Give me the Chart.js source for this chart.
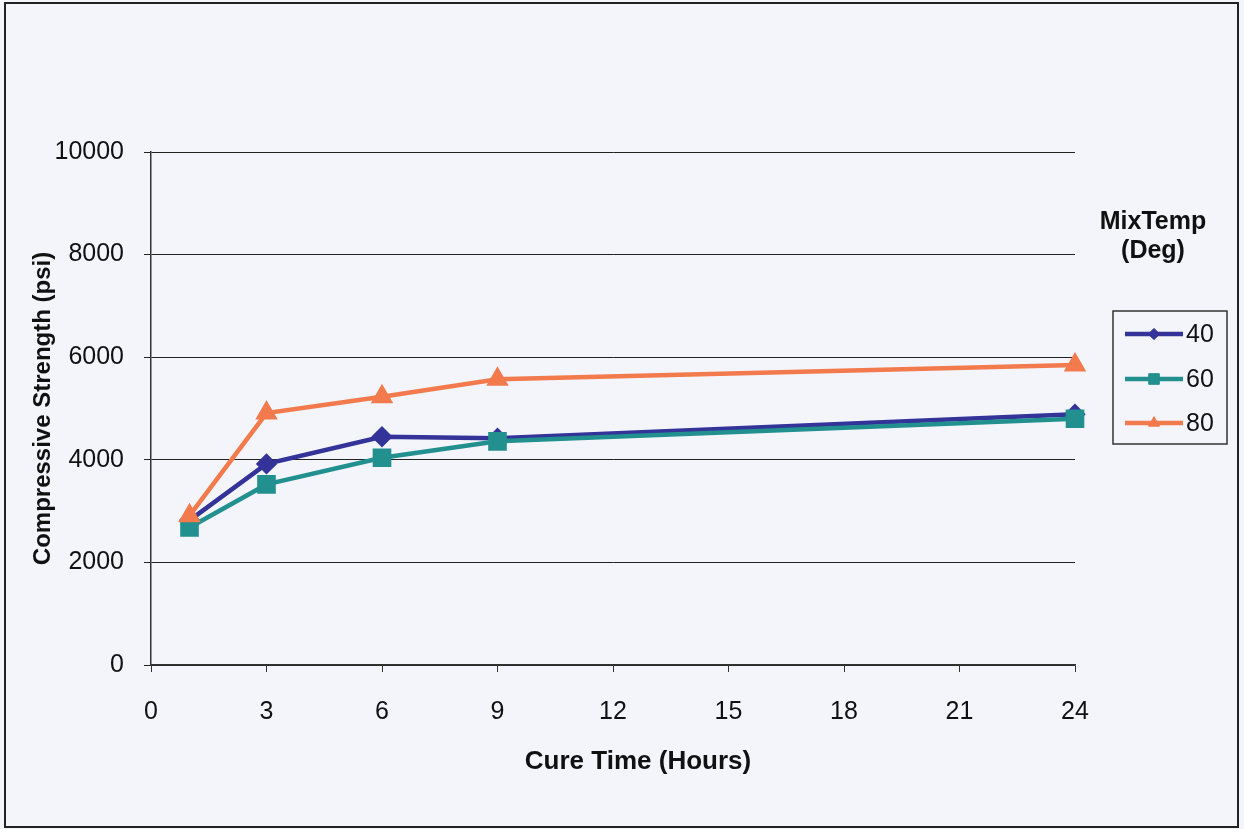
<!DOCTYPE html>
<html>
<head>
<meta charset="utf-8">
<script src="https://cdn.jsdelivr.net/npm/chart.js@4.4.1/dist/chart.umd.min.js"></script>
<style>
  html, body { margin: 0; padding: 0; background: #f4f5fb; }
  #wrap { width: 1244px; height: 829px; position: relative; }
</style>
</head>
<body>
<div id="wrap"><canvas id="myChart" width="1244" height="829"></canvas></div>
<script>
// cure time (hours) and strength (psi) per mix temperature
const hours = [1, 3, 6, 9, 24];
const temp40 = [2820, 3920, 4450, 4420, 4890];
const temp60 = [2680, 3520, 4040, 4360, 4800];
const temp80 = [2910, 4910, 5230, 5570, 5850];
const seriesLabels = ['40', '60', '80'];
const xTicks = [0, 3, 6, 9, 12, 15, 18, 21, 24];
const yTicks = [0, 2000, 4000, 6000, 8000, 10000];
const xTitle = 'Cure Time (Hours)';

const FONT = "'Liberation Sans', Arial, sans-serif";

function pts(ys) {
    return hours.map((h, i) => ({ x: h, y: ys[i] }));
}

// page frame + background, x title sits a bit right of the plot centre like the original
const framePlugin = {
    id: 'frame',
    beforeDraw(chart) {
        const ctx = chart.ctx;
        ctx.save();
        ctx.fillStyle = '#f4f5fb';
        ctx.fillRect(0, 0, chart.width, chart.height);
        ctx.strokeStyle = '#222';
        ctx.lineWidth = 2;
        ctx.strokeRect(5, 3, 1233, 824);
        ctx.restore();
    },
    afterDraw(chart) {
        const ctx = chart.ctx;
        ctx.save();
        ctx.fillStyle = '#111';
        ctx.font = 'bold 26px ' + FONT;
        ctx.textAlign = 'center';
        ctx.textBaseline = 'middle';
        ctx.fillText(xTitle, 638, 762);
        ctx.restore();
    }
};

// excel style legend on the right with a title above it
const sideLegend = {
    id: 'sideLegend',
    afterDraw(chart) {
        const ctx = chart.ctx;
        ctx.save();
        ctx.fillStyle = '#111';
        ctx.font = 'bold 25px ' + FONT;
        ctx.textAlign = 'center';
        ctx.textBaseline = 'middle';
        ctx.fillText('MixTemp', 1153, 222);
        ctx.fillText('(Deg)', 1153, 251);

        ctx.strokeStyle = '#333';
        ctx.lineWidth = 1.5;
        ctx.strokeRect(1113, 311, 114, 133);

        const rows = [334, 379, 423];
        chart.data.datasets.forEach((ds, i) => {
            const y = rows[i];
            ctx.strokeStyle = ds.borderColor;
            ctx.lineWidth = ds.borderWidth;
            ctx.beginPath();
            ctx.moveTo(1125, y);
            ctx.lineTo(1183, y);
            ctx.stroke();
            ctx.fillStyle = ds.borderColor;
            ctx.strokeStyle = ds.borderColor;
            ctx.lineWidth = 1;
            Chart.helpers.drawPoint(ctx, {
                pointStyle: ds.pointStyle,
                radius: ds.pointRadius * 0.75,
                rotation: 0,
                borderWidth: 1
            }, 1154, y);
            ctx.fillStyle = '#111';
            ctx.font = '25px ' + FONT;
            ctx.textAlign = 'left';
            ctx.fillText(ds.label, 1186, y + 1);
        });
        ctx.restore();
    }
};

new Chart(document.getElementById('myChart'), {
    type: 'line',
    data: {
        datasets: [
            {
                label: seriesLabels[0],
                data: pts(temp40),
                borderColor: '#333399',
                backgroundColor: '#333399',
                borderWidth: 4.5,
                pointStyle: 'rectRot',
                pointRadius: 7.5,
                order: 3
            },
            {
                label: seriesLabels[1],
                data: pts(temp60),
                borderColor: '#22908f',
                backgroundColor: '#22908f',
                borderWidth: 4.5,
                pointStyle: 'rect',
                pointRadius: 10,
                order: 2
            },
            {
                label: seriesLabels[2],
                data: pts(temp80),
                borderColor: '#f27a4c',
                backgroundColor: '#f27a4c',
                borderWidth: 4.5,
                pointStyle: 'triangle',
                pointRadius: 8.5,
                order: 1
            }
        ]
    },
    options: {
        responsive: false,
        animation: false,
        clip: false,
        layout: { padding: { left: 0, top: 152, right: 169, bottom: 0 } },
        plugins: {
            legend: { display: false },
            tooltip: { enabled: false }
        },
        elements: { line: { tension: 0 } },
        scales: {
            x: {
                type: 'linear',
                min: 0,
                max: 24,
                afterBuildTicks: (s) => { s.ticks = xTicks.map(v => ({ value: v })); },
                afterFit: (s) => { s.height = 164; },
                ticks: {
                    color: '#111',
                    font: { family: FONT, size: 25 },
                    padding: 25,
                    callback: (v) => String(v)
                },
                grid: { drawOnChartArea: false, drawTicks: true, tickLength: 7, color: '#333' },
                border: { color: '#333', width: 1.5 },
                title: { display: false }
            },
            y: {
                min: 0,
                max: 10000,
                afterBuildTicks: (s) => { s.ticks = yTicks.map(v => ({ value: v })); },
                afterFit: (s) => { s.width = 151; },
                ticks: {
                    color: '#111',
                    font: { family: FONT, size: 25 },
                    padding: 20,
                    callback: (v) => String(v)
                },
                grid: { color: '#222', lineWidth: 1, tickLength: 7 },
                border: { color: '#333', width: 1.5 },
                title: {
                    display: true,
                    text: 'Compressive Strength (psi)',
                    color: '#111',
                    font: { family: FONT, size: 24, weight: 'bold' },
                    padding: { top: 29, bottom: 0 }
                }
            }
        }
    },
    plugins: [framePlugin, sideLegend]
});
</script>
</body>
</html>
